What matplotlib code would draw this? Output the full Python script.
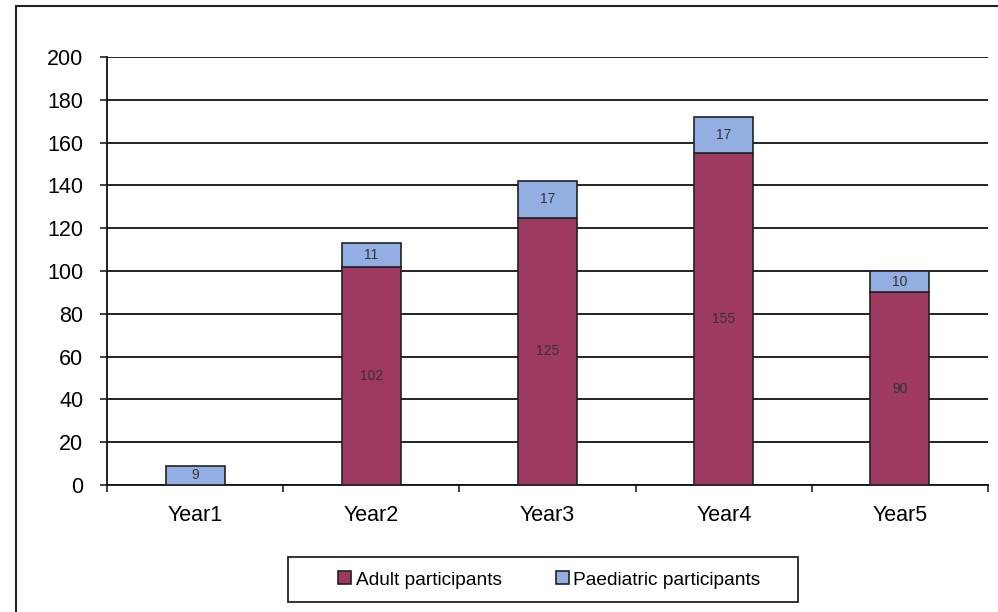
import matplotlib
matplotlib.use("Agg")
import matplotlib.pyplot as plt
from matplotlib.patches import Rectangle
import numpy as np

plt.rcParams['font.family'] = ['Liberation Sans', 'DejaVu Sans']

categories = ["Year1", "Year2", "Year3", "Year4", "Year5"]
adult = [0, 102, 125, 155, 90]
paediatric = [9, 11, 17, 17, 10]
yticks = [0, 20, 40, 60, 80, 100, 120, 140, 160, 180, 200]

adult_color = "#9E3A62"
paed_color = "#93AEE2"

W, H = 998, 612
fig = plt.figure(figsize=(W / 100, H / 100), dpi=100)
# outer chart frame
fig.patches.append(Rectangle((16/W, -0.05), 1.0, (H-6)/H + 0.05, transform=fig.transFigure,
                             fill=False, edgecolor="#222222", linewidth=1.5))
# legend box
fig.patches.append(Rectangle((288/W, 1 - 602/H), (798-288)/W, 45/H, transform=fig.transFigure,
                             fill=False, edgecolor="#222222", linewidth=1.3))

ax = fig.add_axes([107/W, 1 - 485/H, (988-107)/W, (485-57)/H])
x = np.arange(len(categories))
w = 0.335
ax.bar(x, adult, width=w, color=adult_color, edgecolor="#222222", linewidth=1.2,
       label="Adult participants", zorder=3)
ax.bar(x, paediatric, width=w, bottom=adult, color=paed_color, edgecolor="#222222",
       linewidth=1.2, label="Paediatric participants", zorder=3)

for i in range(len(categories)):
    if adult[i] > 0:
        ax.text(x[i], adult[i] / 2, str(adult[i]), ha="center", va="center",
                fontsize=10, color="#333333", zorder=4)
    ax.text(x[i], adult[i] + paediatric[i] / 2, str(paediatric[i]), ha="center",
            va="center", fontsize=10, color="#333333", zorder=4)

ax.set_xlim(-0.5, len(categories) - 0.5)
ax.set_ylim(0, 200)
ax.set_yticks(yticks)
ax.tick_params(axis="y", labelsize=15.5, length=5, width=1.2, pad=12, color="#222222")
ax.set_xticks(x)
ax.set_xticklabels(categories, fontsize=15.5)
ax.tick_params(axis="x", length=0, pad=14.5)
ax.set_xticks(np.arange(len(categories) + 1) - 0.5, minor=True)
ax.tick_params(axis="x", which="minor", length=5, width=1.2, color="#222222")
ax.yaxis.grid(True, color="#111111", linewidth=1.3, zorder=0)
for s in ["top", "right"]:
    ax.spines[s].set_visible(False)
ax.spines["left"].set_linewidth(1.3)
ax.spines["bottom"].set_linewidth(1.3)
ax.spines["left"].set_color("#111111")
ax.spines["bottom"].set_color("#111111")

leg = fig.legend(loc="center", bbox_to_anchor=(549.5/W, 1 - 580/H),
                 ncol=2, fontsize=13.8, frameon=False,
                 handlelength=0.65, handleheight=0.65,
                 handletextpad=0.25, columnspacing=2.85, borderpad=0,
                 borderaxespad=0)

fig.savefig("out.png", dpi=100)
